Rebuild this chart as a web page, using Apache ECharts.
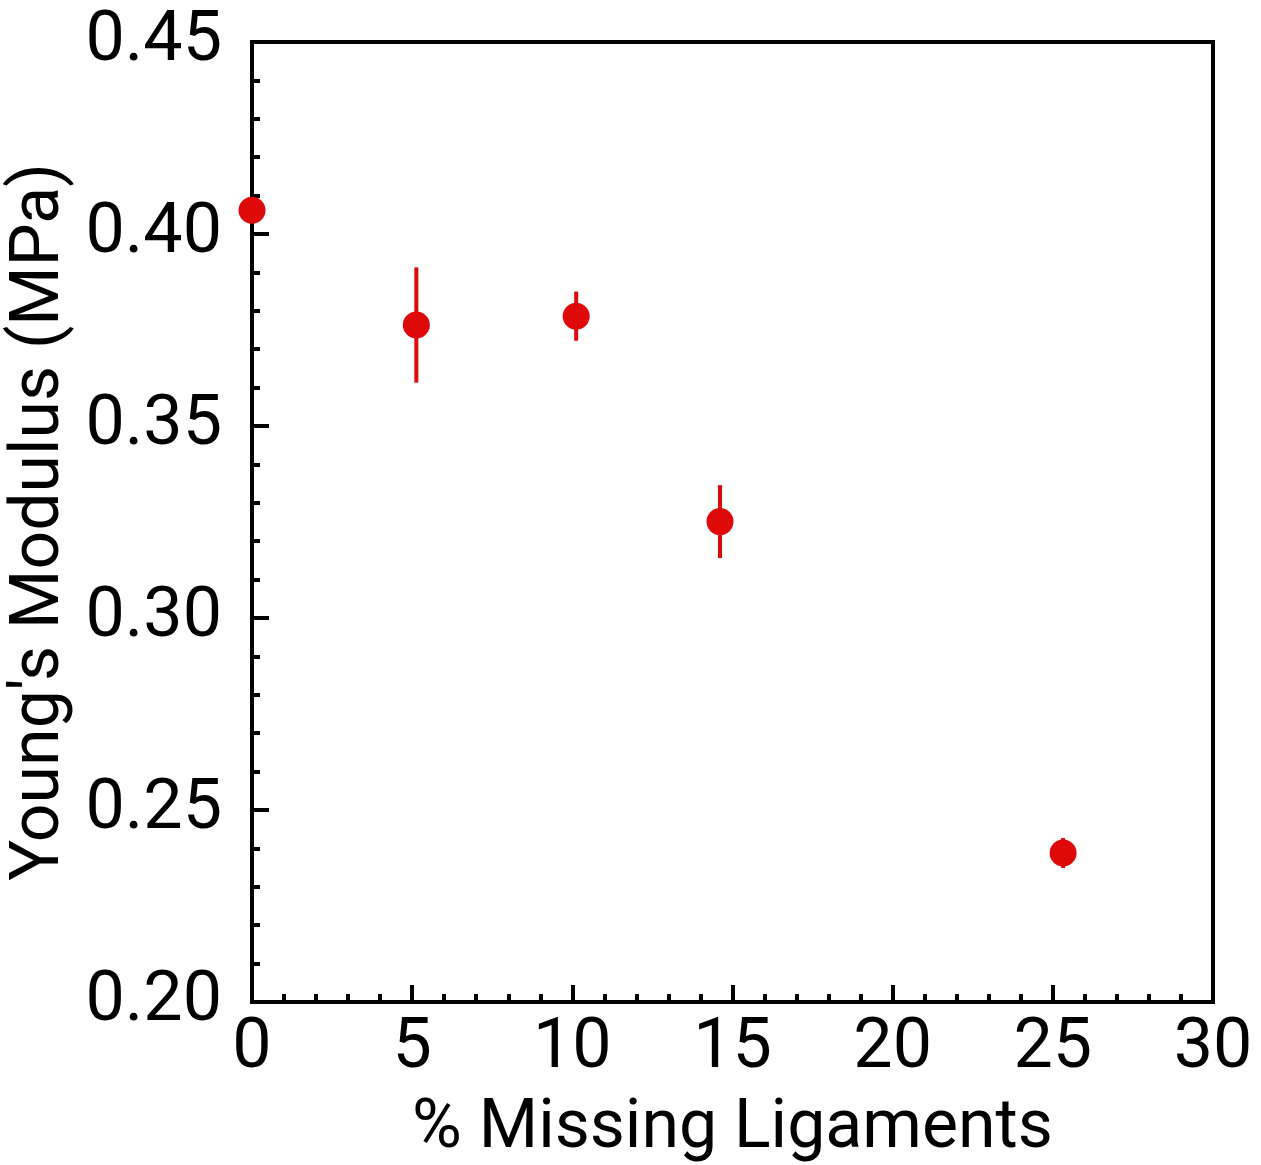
<!DOCTYPE html>
<html>
<head>
<meta charset="utf-8">
<script src="https://cdn.jsdelivr.net/npm/echarts@6/dist/echarts.min.js"></script>
<style>html,body{margin:0;padding:0;background:#fff}#c{width:1261px;height:1165px}</style>
</head>
<body>
<div id="c"></div>
<script>
const missing = [0, 5.13, 10.12, 14.61, 25.32];
const modulus = [0.4062, 0.3763, 0.3786, 0.3251, 0.2388];
const errors = [0.0, 0.0150, 0.0064, 0.0095, 0.0039];
const xTicks = [0, 5, 10, 15, 20, 25, 30];
const yTicks = [0.20, 0.25, 0.30, 0.35, 0.40, 0.45];

const font = 'Roboto';
const red = '#de0a0a';
const chart = echarts.init(document.getElementById('c'), null, {renderer: 'canvas'});
const pts = missing.map((x, i) => [x, modulus[i], errors[i]]);

chart.setOption({
  animation: false,
  grid: {left: 252, top: 42, right: 48, bottom: 163, outerBoundsMode: 'none', containLabel: false,
    show: true, borderColor: '#000', borderWidth: 4, backgroundColor: 'transparent'},
  xAxis: {
    type: 'value', min: xTicks[0], max: xTicks[xTicks.length - 1], interval: 5,
    name: '% Missing Ligaments', nameLocation: 'middle', nameGap: 94,
    nameTextStyle: {fontFamily: font, fontSize: 68, color: '#000'},
    axisLine: {show: true, lineStyle: {color: '#000', width: 4}},
    axisTick: {show: true, inside: true, length: 17, lineStyle: {color: '#000', width: 4}},
    minorTick: {show: true, splitNumber: 5, length: 8, lineStyle: {color: '#000', width: 4}},
    splitLine: {show: false},
    axisLabel: {fontFamily: font, fontSize: 70, color: '#000', margin: 12}
  },
  yAxis: {
    type: 'value', min: yTicks[0], max: yTicks[yTicks.length - 1], interval: 0.05,
    name: "Young's Modulus (MPa)", nameLocation: 'middle', nameGap: 168,
    nameTextStyle: {fontFamily: font, fontSize: 68, color: '#000'},
    axisLine: {show: true, lineStyle: {color: '#000', width: 4}},
    axisTick: {show: true, inside: true, length: 17, lineStyle: {color: '#000', width: 4}},
    minorTick: {show: true, splitNumber: 5, length: 8, lineStyle: {color: '#000', width: 4}},
    splitLine: {show: false},
    axisLabel: {fontFamily: font, fontSize: 70, color: '#000', margin: 30, padding: [0, 0, 16, 0],
      formatter: v => v.toFixed(2)}
  },
  series: [
    {
      type: 'custom', z: 10, clip: false,
      data: pts,
      renderItem: (params, api) => {
        const x = api.value(0), y = api.value(1), e = api.value(2);
        if (!e) return null;
        const p1 = api.coord([x, y + e]);
        const p2 = api.coord([x, y - e]);
        return {type: 'line', shape: {x1: p1[0], y1: p1[1], x2: p2[0], y2: p2[1]},
          style: {stroke: red, lineWidth: 4}};
      }
    },
    {
      type: 'scatter', z: 11, clip: false,
      data: pts.map(p => [p[0], p[1]]),
      symbol: 'circle', symbolSize: 27,
      itemStyle: {color: red, opacity: 1}
    }
  ]
});
</script>
</body>
</html>
